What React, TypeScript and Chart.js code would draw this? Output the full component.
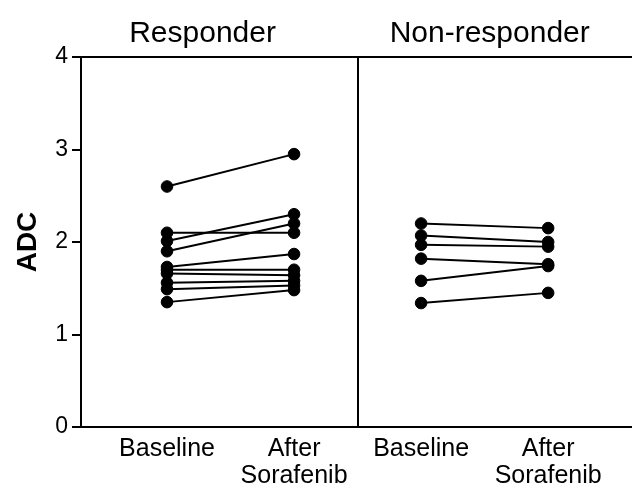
import React, { useEffect, useRef } from "react";
import { Chart, registerables } from "chart.js";

Chart.register(...registerables);

// ---- data ----
const panelTitles = ["Responder", "Non-responder"];
const timepointLabels = [["Baseline"], ["After", "Sorafenib"]];
const yTicks = [0, 1, 2, 3, 4];

const responderBaseline = [2.6, 2.1, 2.01, 1.9, 1.73, 1.7, 1.66, 1.56, 1.49, 1.35];
const responderAfter = [2.95, 2.1, 2.3, 2.2, 1.87, 1.7, 1.64, 1.58, 1.53, 1.48];

const nonResponderBaseline = [2.2, 2.07, 1.97, 1.82, 1.58, 1.34];
const nonResponderAfter = [2.15, 2.0, 1.95, 1.76, 1.74, 1.45];

// category slots on the x axis: panel 1 = 0,1 ; panel 2 = 2,3 ; divider between
const FONT = "'Liberation Sans', Arial, Helvetica, sans-serif";

export default function App() {
  const ref = useRef<HTMLCanvasElement | null>(null);

  useEffect(() => {
    if (!ref.current) return;
    const mk = (b: number[], a: number[], x0: number) =>
      b.map((v, i) => ({
        type: "line" as const,
        data: [
          { x: x0, y: v },
          { x: x0 + 1, y: a[i] },
        ],
        borderColor: "#000",
        backgroundColor: "#000",
        borderWidth: 2,
        pointRadius: 5.8,
        pointBorderWidth: 1,
        pointBackgroundColor: "#000",
        pointBorderColor: "#000",
      }));

    const datasets = [
      ...mk(responderBaseline, responderAfter, 0),
      ...mk(nonResponderBaseline, nonResponderAfter, 2),
    ];

    const xTickValues = [0, 1, 1.5, 2, 3];
    const xLabelFor = (v: number) => {
      if (v === 0 || v === 2) return timepointLabels[0];
      if (v === 1 || v === 3) return timepointLabels[1];
      return "";
    };

    const titlePlugin = {
      id: "panelTitles",
      afterDraw(chart: any) {
        const { ctx, scales } = chart;
        const xs = scales.x;
        const pos = [0.28, 2.54];
        ctx.save();
        ctx.fillStyle = "#000";
        ctx.font = `30px ${FONT}`;
        ctx.textAlign = "center";
        ctx.textBaseline = "alphabetic";
        panelTitles.forEach((t, i) => {
          ctx.fillText(t, xs.getPixelForValue(pos[i]), 42);
        });
        ctx.restore();
      },
    };

    const chart = new Chart(ref.current, {
      type: "line",
      data: { datasets },
      plugins: [titlePlugin],
      options: {
        animation: false,
        responsive: false,
        devicePixelRatio: 1,
        layout: { autoPadding: false, padding: { top: 57, left: 0, right: 0, bottom: 0 } },
        plugins: {
          legend: { display: false },
          tooltip: { enabled: false },
        },
        scales: {
          x: {
            type: "linear",
            min: -0.677,
            max: 3.66,
            afterBuildTicks: (s: any) => {
              s.ticks = xTickValues.map((v) => ({ value: v }));
            },
            afterFit: (s: any) => {
              s.height = 62;
              s.paddingLeft = 0;
              s.paddingRight = 0;
            },
            ticks: {
              autoSkip: false,
              maxRotation: 0,
              padding: 8,
              color: "#000",
              font: { family: FONT, size: 25, lineHeight: 1.1 },
              callback: (v: any) => xLabelFor(Number(v)),
            },
            grid: {
              drawTicks: false,
              lineWidth: 2,
              color: (c: any) =>
                c.tick && c.tick.value === 1.5 ? "#000" : "rgba(0,0,0,0)",
            },
            border: { display: true, color: "#000", width: 2 },
          },
          y: {
            min: 0,
            max: 4,
            afterBuildTicks: (s: any) => {
              s.ticks = yTicks.map((v) => ({ value: v }));
            },
            afterFit: (s: any) => {
              s.width = 81;
              s.paddingTop = 0;
              s.paddingBottom = 0;
            },
            ticks: {
              color: "#000",
              padding: 4,
              font: { family: FONT, size: 23 },
            },
            grid: {
              lineWidth: 2,
              tickLength: 9,
              tickWidth: 2,
              tickColor: "#000",
              color: (c: any) =>
                c.tick && c.tick.value === 4 ? "#000" : "rgba(0,0,0,0)",
            },
            border: { display: true, color: "#000", width: 2 },
            title: {
              display: true,
              text: "ADC",
              color: "#000",
              padding: { top: 11, bottom: 0 },
              font: { family: FONT, size: 28, weight: "bold" },
            },
          },
        },
      },
    } as any);

    return () => chart.destroy();
  }, []);

  return (
    <div style={{ position: "fixed", left: 0, top: 0, width: 632, height: 489, background: "#fff" }}>
      <canvas ref={ref} width={632} height={489} />
    </div>
  );
}
